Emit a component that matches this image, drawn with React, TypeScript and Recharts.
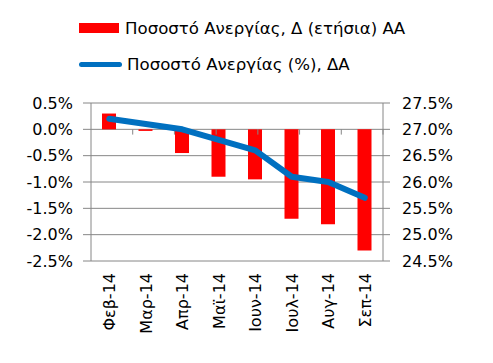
import React from 'react';
import { ComposedChart, Bar, Line, XAxis, YAxis, CartesianGrid, Legend, ReferenceLine } from 'recharts';

const months = ['Φεβ-14', 'Μαρ-14', 'Απρ-14', 'Μαϊ-14', 'Ιουν-14', 'Ιουλ-14', 'Αυγ-14', 'Σεπ-14'];
const annualChange = [0.3, -0.03, -0.45, -0.9, -0.95, -1.7, -1.8, -2.3];
const unemploymentRate = [27.2, 27.1, 27.0, 26.8, 26.6, 26.1, 26.0, 25.7];
const leftTicks = [-2.5, -2.0, -1.5, -1.0, -0.5, 0.0, 0.5];
const rightTicks = [24.5, 25.0, 25.5, 26.0, 26.5, 27.0, 27.5];

const barName = 'Ποσοστό Ανεργίας, Δ (ετήσια) ΑΑ';
const lineName = 'Ποσοστό Ανεργίας (%), ΔΑ';

const data = months.map((m, i) => ({ month: m, change: annualChange[i], rate: unemploymentRate[i] }));
const dividers = months.slice(1).map((_, i) => i + 1);

const FONT = 'DejaVu Sans';
const GRID = '#868686';

const XTick = (props: any) => {
  const { x, y, payload } = props;
  return (
    <text
      x={x}
      y={y}
      transform={`rotate(-90, ${x}, ${y})`}
      textAnchor="end"
      dy="0.36em"
      fontFamily={FONT}
      fontSize={16}
      fill="#000"
    >
      {payload.value}
    </text>
  );
};

const LegendContent = () => (
  <div style={{ fontFamily: FONT, fontSize: 16.6, color: '#000' }}>
    <div style={{ display: 'flex', alignItems: 'center', height: 20, marginBottom: 16 }}>
      <div style={{ width: 40, height: 10, background: '#FF0000', marginRight: 6 }} />
      <span>{barName}</span>
    </div>
    <div style={{ display: 'flex', alignItems: 'center', height: 20 }}>
      <div style={{ width: 43, height: 5, background: '#0070C0', borderRadius: 3, marginRight: 5 }} />
      <span>{lineName}</span>
    </div>
  </div>
);

export default function App() {
  return (
    <div style={{ position: 'absolute', left: 0, top: 0, width: 493, height: 363, background: '#fff' }}>
      <ComposedChart width={493} height={363} data={data} margin={{ top: 103, right: 0, bottom: 0, left: 0 }}>
        <CartesianGrid horizontal vertical={false} stroke={GRID} yAxisId="left" />
        <XAxis
          dataKey="month"
          height={102}
          axisLine={false}
          tickLine={false}
          tickSize={0}
          tickMargin={12}
          interval={0}
          tick={<XTick />}
        />
        <XAxis xAxisId="div" type="number" domain={[0, months.length]} hide />
        <YAxis
          yAxisId="left"
          width={91}
          domain={[-2.5, 0.5]}
          ticks={leftTicks}
          tickFormatter={(v: number) => v.toFixed(1) + '%'}
          axisLine={{ stroke: GRID }}
          tickLine={{ stroke: GRID }}
          tickSize={8}
          tickMargin={10}
          tick={{ fontFamily: FONT, fontSize: 16, fill: '#000' }}
          interval={0}
        />
        <YAxis
          yAxisId="right"
          orientation="right"
          width={110}
          domain={[24.5, 27.5]}
          ticks={rightTicks}
          tickFormatter={(v: number) => v.toFixed(1) + '%'}
          axisLine={{ stroke: GRID }}
          tickLine={{ stroke: GRID }}
          tickSize={7}
          tickMargin={12}
          tick={{ fontFamily: FONT, fontSize: 16, fill: '#000' }}
          interval={0}
        />
        {dividers.map((d) => (
          <ReferenceLine
            key={d}
            xAxisId="div"
            yAxisId="left"
            segment={[{ x: d, y: 0 }, { x: d, y: -0.1 }]}
            stroke={GRID}
            ifOverflow="visible"
          />
        ))}
        <Bar yAxisId="left" dataKey="change" name={barName} fill="#FF0000" barSize={14} isAnimationActive={false} />
        <Line
          yAxisId="right"
          dataKey="rate"
          name={lineName}
          type="linear"
          stroke="#0070C0"
          strokeWidth={6}
          strokeLinejoin="round"
          strokeLinecap="round"
          dot={false}
          activeDot={false}
          isAnimationActive={false}
        />
        <Legend
          layout="vertical"
          align="center"
          verticalAlign="middle"
          content={<LegendContent />}
          wrapperStyle={{ top: 18, left: 79, width: 414, height: 80 }}
        />
      </ComposedChart>
    </div>
  );
}
